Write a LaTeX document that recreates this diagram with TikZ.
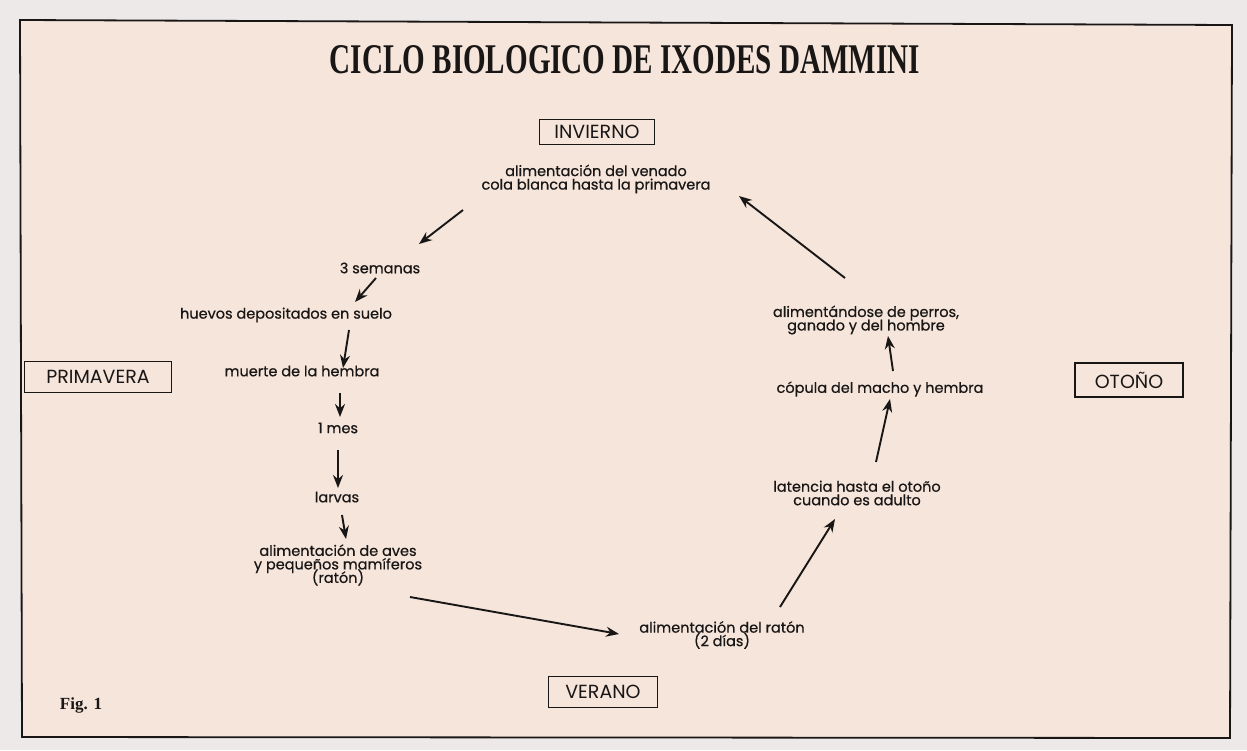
\documentclass[tikz,border=0pt]{standalone}
\usepackage{fontspec}
\usepackage{graphicx}
\setmainfont{Poppins}
\newfontfamily\lblfont[FakeBold=0.6]{Poppins}
\newfontfamily\titlefont{Liberation Serif}
\newfontfamily\figfont{Liberation Serif}
\newcommand\mytightlines{\lineskiplimit=-20pt\relax}
\usetikzlibrary{arrows.meta}
\definecolor{paper}{RGB}{246,229,219}
\definecolor{outside}{RGB}{236,233,232}
\definecolor{ink}{RGB}{25,22,22}
\tikzset{
  season/.style={draw=ink, line width=1.4pt, inner xsep=0pt, inner ysep=0pt, font=\fontsize{19}{19}\selectfont, text=ink},
  lbl/.style={align=center, font={\lblfont\fontsize{14.5}{13.5}\selectfont\mytightlines}, text=ink, inner sep=1pt},
  arr/.style={-{Stealth[length=13pt,width=10pt]}, line width=1.9pt, draw=ink}
}
\begin{document}
\begin{tikzpicture}[x=1pt,y=-1pt]
\useasboundingbox (0,0) rectangle (1247,750);
\fill[outside] (0,0) rectangle (1247,750);
\fill[paper] (20,20) -- (1232,25) -- (1230,738) -- (22,737) -- cycle;
\draw[ink, line width=1.8pt] (20,20) -- (1232,25) -- (1230,738) -- (22,737) -- cycle;

\node[text=ink] (title) at (625,60) {\resizebox{590pt}{28pt}{\titlefont\bfseries CICLO BIOLOGICO DE IXODES DAMMINI}};

\node[season, minimum width=115pt, minimum height=25pt] (inv) at (597,132) {INVIERNO};
\node[season, minimum width=147pt, minimum height=31pt] (pri) at (98,377) {PRIMAVERA};
\node[season, minimum width=109pt, minimum height=31pt] (ver) at (603,692) {VERANO};
\node[season, minimum width=108pt, minimum height=34pt] (oto) at (1129,380) {OTOÑO};

\node[lbl] (venado) at (596,179) {alimentación del venado\\cola blanca hasta la primavera};
\node[lbl] (sem) at (380,268) {3 semanas};
\node[lbl] (huevos) at (286,315) {huevos depositados en suelo};
\node[lbl] (muerte) at (302,371) {muerte de la hembra};
\node[lbl] (mes) at (338,428) {1 mes};
\node[lbl] (larvas) at (337,497) {larvas};
\node[lbl] (aves) at (338,565) {alimentación de aves\\y pequeños mamíferos\\(ratón)};
\node[lbl] (raton) at (722,635) {alimentación del ratón\\(2 días)};
\node[lbl] (latencia) at (857,493) {latencia hasta el otoño\\cuando es adulto};
\node[lbl] (copula) at (880,389) {cópula del macho y hembra};
\node[lbl] (perros) at (866,320) {alimentándose de perros,\\ganado y del hombre};
\node[text=ink, font=\figfont\bfseries\fontsize{17}{17}\selectfont] (fig) at (81,705) {Fig. 1};

\coordinate (a1s) at (463,210); \coordinate (a1e) at (419,244);
\coordinate (a2s) at (376,278); \coordinate (a2e) at (355,302);
\coordinate (a3s) at (349,330); \coordinate (a3e) at (343,368);
\coordinate (a4s) at (340,393); \coordinate (a4e) at (340,417);
\coordinate (a5s) at (338,450); \coordinate (a5e) at (338,488);
\coordinate (a6s) at (342,515); \coordinate (a6e) at (346,539);
\coordinate (a7s) at (410,597); \coordinate (a7e) at (619,634);
\coordinate (a8s) at (780,607); \coordinate (a8e) at (835,519);
\coordinate (a9s) at (876,462); \coordinate (a9e) at (890,399);
\coordinate (a10s) at (893,371); \coordinate (a10e) at (888,336);
\coordinate (a11s) at (845,278); \coordinate (a11e) at (739,196);

\foreach \i in {1,...,11} \draw[arr] (a\i s) -- (a\i e);
\end{tikzpicture}
\end{document}
